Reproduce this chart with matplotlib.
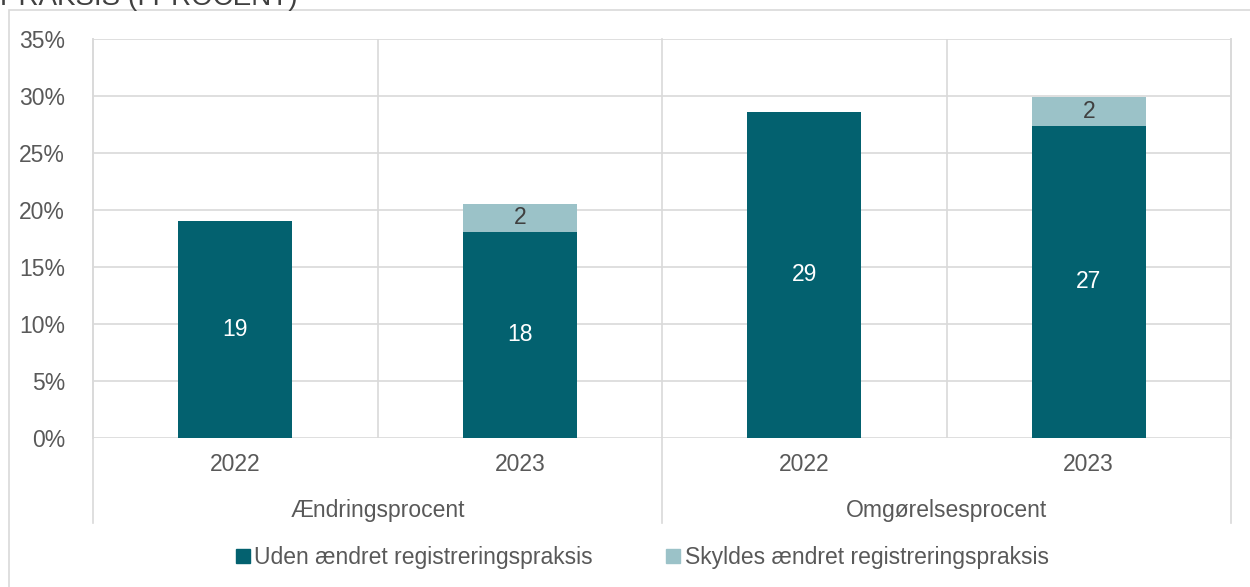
import matplotlib
matplotlib.use("Agg")
import matplotlib.pyplot as plt
from matplotlib.lines import Line2D
from matplotlib.patches import Rectangle

# data
years = ["2022", "2023", "2022", "2023"]
groups = ["Ændringsprocent", "Omgørelsesprocent"]
uden = [19.0, 18.1, 28.6, 27.4]
skyldes = [0.0, 2.4, 0.0, 2.5]
series_names = ["Uden ændret registreringspraksis", "Skyldes ændret registreringspraksis"]
title_text = "PRAKSIS (I PROCENT)"

dark = "#03616F"
light = "#9BC2C8"
grid_c = "#D9D9D9"
txt_c = "#595959"
fs = 16.5

plt.rcParams["font.family"] = ["Liberation Sans", "DejaVu Sans"]

fig = plt.figure(figsize=(12.5, 5.87), dpi=100)
ax = fig.add_axes([0.0744, 0.2538, 0.9104, 0.6798])

x = list(range(len(years)))
w = 0.4
ax.bar(x, uden, width=w, color=dark, zorder=3)
ax.bar(x, skyldes, width=w, bottom=uden, color=light, zorder=3)

for i in x:
    ax.text(i, uden[i] / 2, f"{uden[i]:.0f}", ha="center", va="center",
            color="white", fontsize=fs, zorder=4)
    if skyldes[i] > 0:
        ax.text(i, uden[i] + skyldes[i] / 2, f"{skyldes[i]:.0f}", ha="center",
                va="center", color="#404040", fontsize=fs, zorder=4)

ax.set_xlim(-0.5, 3.5)
ax.set_ylim(0, 35)
ax.set_yticks(range(0, 36, 5))
ax.set_yticklabels([f"{v}%" for v in range(0, 36, 5)])
ax.yaxis.grid(True, color=grid_c, linewidth=1.2, zorder=0)
ax.set_xticks(x)
ax.set_xticklabels(years)
ax.tick_params(length=0, labelsize=fs, colors=txt_c)
ax.tick_params(axis="x", pad=11)
ax.tick_params(axis="y", pad=20)

for s in ["top", "bottom"]:
    ax.spines[s].set_visible(False)
for s in ["left", "right"]:
    ax.spines[s].set_color(grid_c)
    ax.spines[s].set_linewidth(1.2)
    ax.spines[s].set_bounds(0, 35)

# separators
ax.axvline(0.5, color=grid_c, lw=1.2, zorder=1)
ax.axvline(2.5, color=grid_c, lw=1.2, zorder=1)
for xv in [-0.5, 1.5, 3.5]:
    ax.axvline(xv, ymin=-0.213, ymax=1, color=grid_c, lw=1.2, clip_on=False, zorder=1)

# group labels
for gi, g in enumerate(groups):
    ax.text(gi * 2 + 0.5, -0.182, g, transform=ax.get_xaxis_transform(),
            ha="center", va="center", fontsize=fs, color=txt_c)

# legend
handles = [Line2D([], [], marker="s", linestyle="", markersize=10, color=dark),
           Line2D([], [], marker="s", linestyle="", markersize=10, color=light)]
fig.legend(handles, series_names, loc="center", bbox_to_anchor=(0.512, 0.051),
           ncol=2, frameon=False, fontsize=fs, labelcolor=txt_c,
           handletextpad=0.0, columnspacing=3.0, handlelength=1.0)

# outer frame and cut title
fig.patches.append(Rectangle((9 / 1250, -0.1), 1.1, 1.1 - 10 / 587,
                             transform=fig.transFigure, fill=False,
                             edgecolor=grid_c, linewidth=1.2))
fig.text(0.0, 1 - 5 / 587, title_text, va="baseline", ha="left",
         fontsize=20, color="#404040")

fig.savefig("out.png", dpi=100)
